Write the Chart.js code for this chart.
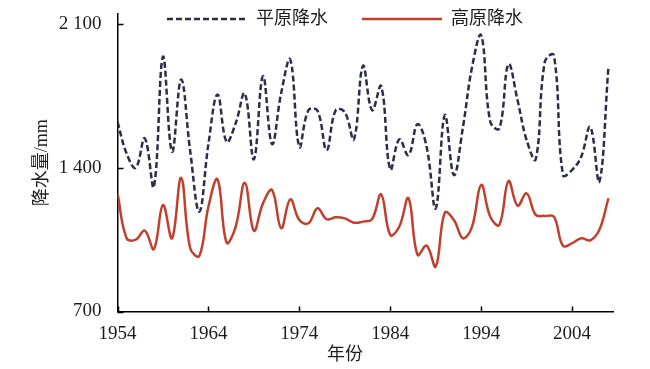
<!DOCTYPE html>
<html>
<head>
<meta charset="utf-8">
<script src="https://cdn.jsdelivr.net/npm/chart.js@4/dist/chart.umd.min.js"></script>
<style>
    html, body { margin: 0; padding: 0; background: #fff; }
    #wrap { width: 650px; height: 369px; }
</style>
</head>
<body>
<div id="wrap"><canvas id="rainChart"></canvas></div>
<script>
var years = [1954, 1955, 1956, 1957, 1958, 1959, 1960, 1961, 1962, 1963,
    1964, 1965, 1966, 1967, 1968, 1969, 1970, 1971, 1972, 1973,
    1974, 1975, 1976, 1977, 1978, 1979, 1980, 1981, 1982, 1983,
    1984, 1985, 1986, 1987, 1988, 1989, 1990, 1991, 1992, 1993,
    1994, 1995, 1996, 1997, 1998, 1999, 2000, 2001, 2002, 2003,
    2004, 2005, 2006, 2007, 2008];
var plainRain = [1624, 1470, 1400, 1544, 1308, 1941, 1479, 1831, 1480, 1187,
    1516, 1758, 1527, 1618, 1763, 1442, 1847, 1516, 1764, 1928,
    1503, 1681, 1678, 1487, 1681, 1672, 1539, 1897, 1681, 1798,
    1393, 1539, 1462, 1613, 1503, 1203, 1657, 1365, 1600, 1892,
    2046, 1625, 1592, 1905, 1730, 1535, 1442, 1917, 1949, 1365,
    1390, 1454, 1600, 1333, 1892];
var plateauRain = [1276, 1057, 1050, 1094, 1004, 1219, 1057, 1352, 1008, 971,
    1211, 1344, 1036, 1114, 1328, 1094, 1227, 1292, 1106, 1247,
    1146, 1130, 1203, 1150, 1159, 1154, 1133, 1138, 1150, 1271,
    1073, 1114, 1252, 976, 1021, 919, 1182, 1146, 1057, 1114,
    1317, 1162, 1122, 1336, 1216, 1276, 1171, 1166, 1162, 1020,
    1033, 1057, 1047, 1098, 1252];
var seriesNames = ["平原降水", "高原降水"];
var xTickValues = [1954, 1964, 1974, 1984, 1994, 2004];
var yTickValues = [700, 1400, 2100];
var yTickLabels = ["700", "1 400", "2 100"];
var xTitle = "年份";
var yTitle = "降水量/mm";

var fontFamily = "'Liberation Serif', 'Noto Sans CJK SC', serif";
var textColor = "#1c1c1c";
var navy = "#2b2d4a";
var red = "#c0402f";

function toPoints(values) {
    return values.map(function (v, i) {
        return { x: years[i], y: v };
    });
}

// inward tick marks + legend row + x title
var decorations = {
    id: 'decorations',
    afterDraw: function (chart) {
        var ctx = chart.ctx;
        var xs = chart.scales.x;
        var ys = chart.scales.y;
        var area = chart.chartArea;
        ctx.save();
        ctx.strokeStyle = "#000";
        ctx.lineWidth = 1.5;
        ctx.beginPath();
        xTickValues.forEach(function (v) {
            var px = Math.round(xs.getPixelForValue(v)) + 0.5;
            ctx.moveTo(px, area.bottom);
            ctx.lineTo(px, area.bottom - 5);
        });
        yTickValues.forEach(function (v) {
            var py = Math.round(ys.getPixelForValue(v)) + 0.5;
            ctx.moveTo(area.left, py);
            ctx.lineTo(area.left + 6, py);
        });
        ctx.stroke();

        ctx.font = "18px " + fontFamily;
        ctx.fillStyle = textColor;
        ctx.textBaseline = "middle";
        var legendX = [167, 362];
        chart.data.datasets.forEach(function (ds, i) {
            ctx.strokeStyle = ds.borderColor;
            ctx.lineWidth = ds.borderWidth;
            ctx.setLineDash(ds.borderDash || []);
            ctx.beginPath();
            ctx.moveTo(legendX[i], 19);
            ctx.lineTo(legendX[i] + 80, 19);
            ctx.stroke();
            ctx.setLineDash([]);
            ctx.textAlign = "left";
            ctx.fillText(ds.label, legendX[i] + 89, 19);
        });

        ctx.textAlign = "center";
        ctx.fillText(xTitle, 345, 355);
        ctx.restore();
    }
};

var ctx = document.getElementById("rainChart").getContext('2d');
var rainChart = new Chart(ctx, {
    type: 'line',
    data: {
        datasets: [{
            label: seriesNames[0],
            data: toPoints(plainRain),
            borderColor: navy,
            borderWidth: 2.5,
            borderDash: [6, 3],
            pointRadius: 0,
            tension: 0.4,
            fill: false
        }, {
            label: seriesNames[1],
            data: toPoints(plateauRain),
            borderColor: red,
            borderWidth: 2.5,
            pointRadius: 0,
            tension: 0.4,
            fill: false
        }]
    },
    options: {
        responsive: true,
        maintainAspectRatio: false,
        animation: false,
        layout: {
            padding: { left: 0, right: 37, top: 14, bottom: 0 }
        },
        plugins: {
            legend: { display: false },
            tooltip: { enabled: false }
        },
        scales: {
            x: {
                type: 'linear',
                min: 1954,
                max: 2008.5,
                afterBuildTicks: function (scale) {
                    scale.ticks = xTickValues.map(function (v) { return { value: v }; });
                },
                afterFit: function (scale) {
                    scale.height = 57.5;
                },
                grid: { display: false, drawTicks: false },
                border: { display: true, color: "#000", width: 1.5 },
                ticks: {
                    padding: 11,
                    color: textColor,
                    font: { family: fontFamily, size: 19 },
                    maxRotation: 0,
                    callback: function (value) { return String(value); }
                }
            },
            y: {
                min: 700,
                max: 2150,
                afterBuildTicks: function (scale) {
                    scale.ticks = yTickValues.map(function (v) { return { value: v }; });
                },
                afterFit: function (scale) {
                    scale.width = 117.5;
                    scale.paddingTop = 0;
                    scale.paddingBottom = 0;
                },
                grid: { display: false, drawTicks: false },
                border: { display: true, color: "#000", width: 1.5 },
                ticks: {
                    padding: 16,
                    color: textColor,
                    font: { family: fontFamily, size: 19 },
                    callback: function (value) {
                        var idx = yTickValues.indexOf(value);
                        return idx >= 0 ? yTickLabels[idx] : "";
                    }
                },
                title: {
                    display: true,
                    text: yTitle,
                    color: textColor,
                    font: { family: fontFamily, size: 18 },
                    padding: { top: 31, bottom: 0 }
                }
            }
        }
    },
    plugins: [decorations]
});
</script>
</body>
</html>
